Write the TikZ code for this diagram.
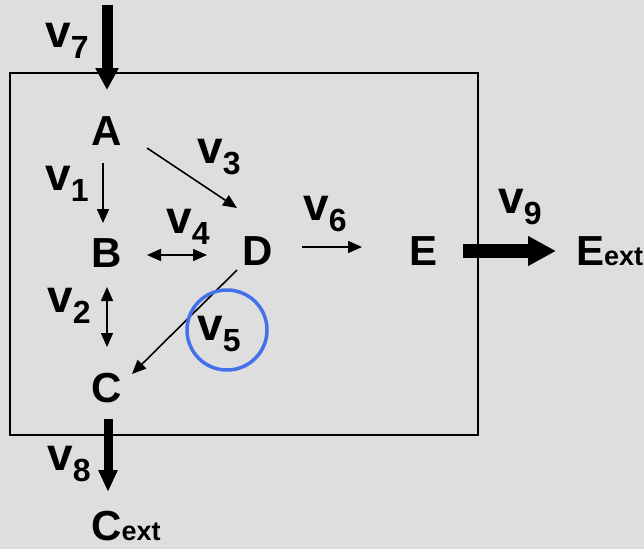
\documentclass[tikz,border=0pt]{standalone}
\usepackage{fontspec}
\setmainfont{Liberation Sans}
\usetikzlibrary{arrows.meta}
\definecolor{bg}{HTML}{DEDEDE}
\definecolor{ringblue}{HTML}{4470EA}
\newcommand{\flux}[1]{{\fontsize{46}{46}\selectfont v}\raisebox{-11pt}{\fontsize{32}{32}\selectfont #1}}
\begin{document}
\begin{tikzpicture}[x=1pt,y=-1pt,
  met/.style={font=\bfseries\fontsize{42}{42}\selectfont, inner sep=0pt, anchor=base},
  ext/.style={font=\bfseries\fontsize{42}{42}\selectfont, inner sep=0pt, anchor=base west},
  flx/.style={font=\bfseries, inner sep=0pt, anchor=base west},
  thinflow/.style={line width=1.6pt, -{Triangle[width=12pt,length=14pt]}},
  revflow/.style={line width=1.6pt, {Triangle[width=12pt,length=14pt]}-{Triangle[width=12pt,length=14pt]}}]
\fill[bg] (0,0) rectangle (644,549);
\useasboundingbox (0,0) rectangle (644,549);
% compartment
\draw[line width=1.5pt] (10,73) rectangle (478,435);
% metabolites
\node[met] (A) at (107,145) {A};
\node[met] (B) at (107,267) {B};
\node[met] (C) at (107,402) {C};
\node[met] (D) at (258,265) {D};
\node[met] (E) at (423,265) {E};
\node[ext] (Eext) at (576,265) {E{\fontsize{27}{27}\selectfont ext}};
\node[ext] (Cext) at (91,540) {C{\fontsize{27}{27}\selectfont ext}};
% flux labels
\node[flx] (l7) at (45,47) {\flux{7}};
\node[flx] (l1) at (45,190) {\flux{1}};
\node[flx] (l3) at (197,163) {\flux{3}};
\node[flx] (l4) at (166,233) {\flux{4}};
\node[flx] (l6) at (303,220) {\flux{6}};
\node[flx] (l9) at (498,213) {\flux{9}};
\node[flx] (l2) at (47,312) {\flux{2}};
\node[flx] (l5) at (197,340) {\flux{5}};
\node[flx] (l8) at (47,470) {\flux{8}};
% arrow end points
\coordinate (v7s) at (107,5);   \coordinate (v7e) at (107,90);
\coordinate (v1s) at (103,163); \coordinate (v1e) at (103,223);
\coordinate (v3s) at (147,148); \coordinate (v3e) at (237,208);
\coordinate (v4s) at (147,255); \coordinate (v4e) at (207,255);
\coordinate (v6s) at (302,247); \coordinate (v6e) at (362,247);
\coordinate (v9s) at (463,251); \coordinate (v9e) at (556,251);
\coordinate (v2s) at (107,287); \coordinate (v2e) at (107,347);
\coordinate (v5s) at (237,270); \coordinate (v5e) at (132,374);
\coordinate (v8s) at (108,419); \coordinate (v8e) at (108,492);
% fluxes
\draw[line width=11pt, -{Triangle[width=22pt,length=22pt]}] (v7s) -- (v7e);
\draw[thinflow] (v1s) -- (v1e);
\draw[thinflow] (v3s) -- (v3e);
\draw[revflow] (v4s) -- (v4e);
\draw[thinflow] (v6s) -- (v6e);
\draw[line width=14pt, -{Triangle[width=28pt,length=28pt]}] (v9s) -- (v9e);
\draw[revflow] (v2s) -- (v2e);
\draw[thinflow] (v5s) -- (v5e);
\draw[line width=9pt, -{Triangle[width=18pt,length=22pt]}] (v8s) -- (v8e);
% highlight
\node[draw=ringblue, line width=3.5pt, circle, minimum size=80pt, inner sep=0pt] (ring) at (227,330) {};
\end{tikzpicture}
\end{document}
